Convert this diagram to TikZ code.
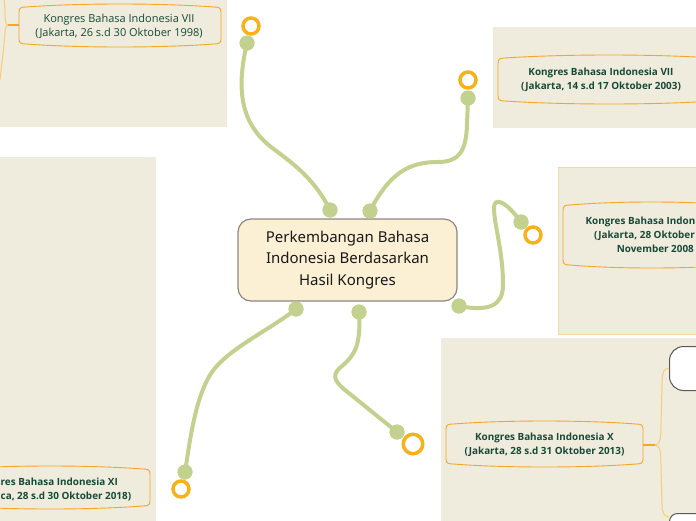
\documentclass[tikz,border=0pt]{standalone}
\usepackage{fontspec}
\setmainfont{Noto Sans}
\newfontfamily\topicfont{Open Sans}
\definecolor{panel}{HTML}{EFEBDD}
\definecolor{panelbd}{HTML}{F6D6A4}
\definecolor{bub}{HTML}{F5A623}
\definecolor{branch}{HTML}{F9CB7A}
\definecolor{lime}{HTML}{C3D18E}
\definecolor{ringc}{HTML}{F8B119}
\definecolor{cfill}{HTML}{FCF0D4}
\definecolor{cbd}{HTML}{8C8782}
\definecolor{tgreen}{HTML}{174A38}
\tikzset{
  panelbox/.style={fill=panel, draw=none},
  bubbleline/.style={draw=bub, line width=0.9pt},
  bubconn/.style={draw=bub, line width=1.6pt},
  branchline/.style={draw=branch, line width=1pt},
  conn/.style={draw=lime, line width=4pt, line cap=round},
  dotnode/.style={circle, fill=lime, inner sep=0pt, minimum size=15pt},
  ringnode/.style={circle, draw=ringc, line width=3.5pt, fill=white, inner sep=0pt, minimum size=#1},
  ringnode/.default=16pt,
  topicb/.style={text=tgreen, font=\topicfont\fontsize{9.9}{14.5}\selectfont\bfseries, align=center, inner sep=0pt},
  topicr/.style={text=tgreen, font=\topicfont\fontsize{11}{14}\selectfont, align=center, inner sep=0pt},
  central/.style={rectangle, rounded corners=13pt, fill=cfill, draw=cbd, line width=1.2pt,
    minimum width=219pt, minimum height=82pt, align=center,
    font=\fontsize{15}{21.5}\selectfont, text=black!90},
  whitebox/.style={rectangle, fill=white, draw=black!65, line width=1pt, inner sep=0pt}
}
\newcommand\tbubble[4]{%
  \draw[bubbleline] ({#1},{#2+8}) .. controls ({#1},{#2+4}) and ({#1+2},{#2+3}) .. ({#1+7},{#2+3})
    .. controls ({#1+0.3*(#3-#1)},{#2-1}) and ({#3-0.3*(#3-#1)},{#2-1}) .. ({#3-7},{#2+3})
    .. controls ({#3-2},{#2+3}) and ({#3},{#2+4}) .. ({#3},{#2+8})
    -- ({#3},{#4-8})
    .. controls ({#3},{#4-4}) and ({#3-2},{#4-3}) .. ({#3-7},{#4-3})
    .. controls ({#3-0.3*(#3-#1)},{#4+1}) and ({#1+0.3*(#3-#1)},{#4+1}) .. ({#1+7},{#4-3})
    .. controls ({#1+2},{#4-3}) and ({#1},{#4-4}) .. ({#1},{#4-8}) -- cycle;}
\begin{document}
\begin{tikzpicture}[x=1pt,y=-1pt]
\useasboundingbox (0,0) rectangle (696,520);
\clip (0,0) rectangle (696,520);
% panels
\fill[panelbox] (-2,-2) rectangle (227,127);
\fill[panelbox] (493,27) rectangle (700,128);
\filldraw[panelbox, draw=panelbd, line width=1pt] (558,167) rectangle (705,334);
\fill[panelbox] (-2,157) rectangle (156,525);
\fill[panelbox] (441,338) rectangle (700,525);
% topic bubbles
\tbubble{19}{4}{221}{47}
\node[topicr] (tA) at (119,26) {Kongres Bahasa Indonesia VII\\(Jakarta, 26 s.d 30 Oktober 1998)};
\tbubble{498}{55}{720}{104}
\node[topicb] (tB) at (601,80) {Kongres Bahasa Indonesia VII\\(Jakarta, 14 s.d 17 Oktober 2003)};
\tbubble{563}{202}{740}{268}
\node[topicb, anchor=east] (tC1) at (695.5,222) {Kongres Bahasa Indon};
\node[topicb, anchor=east] (tC2) at (695,236) {(Jakarta, 28 Oktober};
\node[topicb, anchor=east] (tC3) at (694,249) {November 2008};
\tbubble{446}{421}{643}{467}
\node[topicb] (tE) at (544.5,445) {Kongres Bahasa Indonesia X\\(Jakarta, 28 s.d 31 Oktober 2013)};
\tbubble{-50}{466}{150}{509}
\node[topicb, anchor=west] (tF1) at (0.5,482) {res Bahasa Indonesia XI};
\node[topicb, anchor=west] (tF2) at (0.5,497) {ca, 28 s.d 30 Oktober 2018)};
% branch lines of panel A
\coordinate (bA) at (19,25);
\coordinate (jA) at (8,25);
\coordinate (upA) at (4,-2);
\coordinate (dnA) at (0,80);
\draw[bubconn] (bA) -- (jA);
\draw[branchline] (jA) .. controls (5,25) and (5,18) .. (5,10) -- (upA);
\draw[branchline] (jA) .. controls (5,25) and (5,32) .. (4,45) -- (dnA);
% sub boxes of panel E
\node[whitebox, rounded corners=14pt, minimum width=60pt, minimum height=44pt, anchor=north west] (w1) at (669,346) {};
\node[whitebox, rounded corners=8pt, minimum width=60pt, minimum height=30pt, anchor=north west] (w2) at (669,513) {};
\coordinate (bE) at (643,445);
\coordinate (jE) at (655,445);
\coordinate (w2in) at (669,517);
\draw[bubconn] (bE) -- (jE);
\draw[branchline] (jE) .. controls (660,445) and (661,438) .. (661,425) -- (662,385) .. controls (662,372) and (664,368) .. (w1.west);
\draw[branchline] (jE) .. controls (660,445) and (661,452) .. (661,465) -- (662,505) .. controls (662,513) and (665,517) .. (w2in);
% central node
\node[central] (root) at (347.5,260) {Perkembangan Bahasa\\Indonesia Berdasarkan\\Hasil Kongres};
% dots
\node[dotnode] (d1) at (330,210) {};
\node[dotnode] (d2) at (370,211) {};
\node[dotnode] (d3) at (459,306) {};
\node[dotnode] (d4) at (296,309) {};
\node[dotnode] (d5) at (359,312) {};
\node[dotnode] (e1) at (247,43) {};
\node[dotnode] (e2) at (468,98) {};
\node[dotnode] (e3) at (521,222) {};
\node[dotnode] (e4) at (185,472) {};
\node[dotnode] (e5) at (397,432) {};
% connectors
\draw[conn] (d1.center) .. controls (315,180) and (295,165) .. (275,150) .. controls (240,125) and (236,90) .. (e1.center);
\draw[conn] (d2.center) .. controls (390,172) and (410,162) .. (438,162) .. controls (460,162) and (466,150) .. (467,125) -- (e2.center);
\draw[conn] (d3.center) .. controls (490,312) and (503,305) .. (503,285) .. controls (503,250) and (494,225) .. (494,208) .. controls (494,197) and (505,200) .. (e3.center);
\draw[conn] (d4.center) .. controls (270,330) and (225,350) .. (210,375) .. controls (195,400) and (190,440) .. (e4.center);
\draw[conn] (d5.center) .. controls (361,345) and (355,355) .. (342,366) .. controls (332,374) and (333,380) .. (345,390) -- (e5.center);
% redraw dots on top
\foreach \p in {d1,d2,d3,d4,d5,e1,e2,e3,e4,e5} \fill[lime] (\p.center) circle (7.5pt);
% rings
\node[ringnode] (r1) at (251,26) {};
\node[ringnode] (r2) at (468,80) {};
\node[ringnode] (r3) at (533,235) {};
\node[ringnode] (r4) at (181,489) {};
\node[ringnode=19.5pt] (r5) at (413,444) {};
\end{tikzpicture}
\end{document}
